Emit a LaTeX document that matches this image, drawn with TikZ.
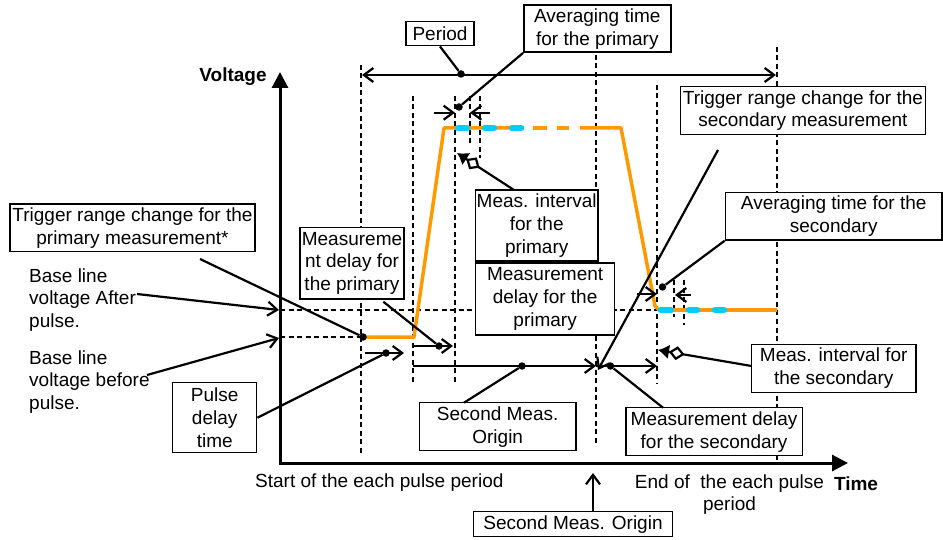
\documentclass[tikz,border=0pt]{standalone}
\usepackage{fontspec}
\setmainfont{Liberation Sans}
\usetikzlibrary{arrows.meta}
\definecolor{pulsecol}{RGB}{255,153,0}
\definecolor{meascol}{RGB}{0,204,255}
\newcommand\lblfont{\fontsize{19}{22.8}\selectfont}
\begin{document}
\begin{tikzpicture}[x=1pt,y=-1pt,
  box/.style={draw,line width=1.5pt,fill=white,align=center,inner sep=0pt,font=\lblfont},
  txt/.style={align=left,inner sep=0pt,font=\lblfont},
  guide/.style={line width=1.8pt,dash pattern=on 5pt off 3.5pt},
  lead/.style={line width=2.2pt},
  span/.style={line width=2.2pt,-{Straight Barb[length=9.5pt,width=14pt]}},
  twospan/.style={line width=2.2pt,{Straight Barb[length=9.5pt,width=14pt]}-{Straight Barb[length=9.5pt,width=14pt]}},
  dmd/.style={line width=2.2pt,-{Diamond[length=16pt,width=14pt,fill=white] Latex[length=11pt,width=15pt]}},
  dot/.style={circle,fill=black,inner sep=0pt,minimum size=7.5pt},
  volt/.style={draw=pulsecol,line width=3.5pt},
  avg/.style={draw=meascol,line width=6.5pt,line cap=round},
]
\useasboundingbox (0,0) rectangle (943,540);

% vertical timing guides
\foreach \n/\x/\a/\b in {A/361/65/455, B/413/96/383, C/455/96/383, D/470/96/144,
    E/480/96/158, F/596/55/446, G/657/85/383, H/674/280/317, I/684/280/325, J/777/47/461}
  {\coordinate (\n1) at (\x,\a); \coordinate (\n2) at (\x,\b); \draw[guide] (\n1) -- (\n2);}

% base line levels
\coordinate (ya) at (280,310); \coordinate (yae) at (657,310);
\coordinate (yb) at (280,337); \coordinate (ybe) at (361,337);
\draw[guide] (ya) -- (yae);
\draw[guide] (yb) -- (ybe);

% axes
\coordinate (O) at (280,463);
\coordinate (Vtop) at (280,72);
\coordinate (Tend) at (848,463);
\draw[line width=3pt,line join=miter,{Triangle[length=16pt,width=16pt]}-{Triangle[length=16pt,width=16pt]}] (Vtop) -- (O) -- (Tend);
\node[font=\lblfont\bfseries,inner sep=0pt] (vlab) at (233,77) {Voltage};
\node[font=\lblfont\bfseries,inner sep=0pt] (tlab) at (856,484) {Time};

% pulse waveform
\draw[volt,line join=round] (361,337) -- (414,337) -- (444,128) -- (524,128);
\draw[volt] (533,128) -- (547,128) (557,128) -- (569,128);
\draw[volt,line join=round] (580,128) -- (621,128) -- (655,306) -- (659,310) -- (777,310);

% averaging windows
\foreach \a/\b in {458/467, 485/494, 512/521} {\draw[avg] (\a,128) -- (\b,128);}
\foreach \a/\b in {661/671, 689/697, 715/724} {\draw[avg] (\a,310) -- (\b,310);}

% labels
\node[box,minimum width=68pt,minimum height=24pt] (period) at (440,33.7) {Period};
\node[box,minimum width=147pt,minimum height=47pt] (avgP) at (597.3,28.7) {Averaging time\\for the primary};
\node[box,minimum width=245pt,minimum height=47.6pt] (trigS) at (802.9,110.5) {Trigger range change for the\\secondary measurement};
\node[box,minimum width=122.5pt,minimum height=71pt] (mip) at (536.7,225.5) {Meas. interval\\for the\\primary};
\node[box,minimum width=139pt,minimum height=72pt] (mdp) at (545.1,298.8) {Measurement\\delay for the\\primary};
\node[box,minimum width=245pt,minimum height=47.7pt] (trigP) at (132.5,227.8) {Trigger range change for the\\primary measurement*};
\node[box,minimum width=104pt,minimum height=71.3pt] (mds) at (352,263.3) {Measureme\\nt delay for\\the primary};
\node[box,minimum width=216.5pt,minimum height=47.3pt] (avgS) at (833.7,216.3) {Averaging time for the\\secondary};
\node[box,minimum width=164.5pt,minimum height=48pt] (mis) at (833.7,368.3) {Meas. interval for\\the secondary};
\node[box,minimum width=84pt,minimum height=70pt] (pulse) at (214.7,417.7) {Pulse\\delay\\time};
\node[box,minimum width=156.7pt,minimum height=48pt] (so1) at (497.7,426.7) {Second Meas.\\Origin};
\node[box,minimum width=176.6pt,minimum height=48pt] (mdsec) at (714.1,431.7) {Measurement delay\\for the secondary};
\node[box,minimum width=199pt,minimum height=25pt] (so2) at (573,524.2) {Second Meas. Origin};

\node[txt,anchor=west] (startp) at (255,483) {Start of the each pulse period};
\node[txt,align=center] (endp) at (729.5,494.5) {End of\ \ the each pulse\\period};
\node[txt,anchor=west] (bafter) at (29,300) {Base line\\voltage After\\pulse.};
\node[txt,anchor=west] (bbefore) at (29,382) {Base line\\voltage before\\pulse.};

% marker dots
\node[dot] (dPer) at (461,74) {};
\node[dot] (dAvgP) at (459,107) {};
\node[dot] (dTrigP) at (363,337) {};
\node[dot] (dMd) at (439,346) {};
\node[dot] (dPulse) at (386,353) {};
\node[dot] (dSo) at (522,366) {};
\node[dot] (dMdSec) at (610.5,366) {};
\node[dot] (dAvgS) at (662.5,287) {};

% connector end points
\coordinate (perL) at (362,75);   \coordinate (perR) at (776,75);
\coordinate (aP1) at (434,112.7); \coordinate (aP1e) at (455,112.7);
\coordinate (aP2) at (490,112.7); \coordinate (aP2e) at (470,112.7);
\coordinate (mipFoot) at (514,190); \coordinate (mipTip) at (457,153);
\coordinate (trigPFoot) at (200,259);
\coordinate (mdsFoot) at (383.3,301.7);
\coordinate (mdA) at (413,346);  \coordinate (mdAe) at (453,346);
\coordinate (pdA) at (365,353);  \coordinate (pdAe) at (404,353);
\coordinate (so1Foot) at (464,402.7);
\coordinate (bot1) at (413,366); \coordinate (bot1e) at (596,366);
\coordinate (bot2) at (596,366); \coordinate (bot2e) at (657,366);
\coordinate (mdsecFoot) at (663,407.7);
\coordinate (trigSFoot) at (718,150); \coordinate (trigSTip) at (598,370);
\coordinate (aftFrom) at (137,294); \coordinate (aftTo) at (279,310);
\coordinate (befFrom) at (147,375); \coordinate (befTo) at (279,338);
\coordinate (so2Foot) at (593,511.7); \coordinate (so2Tip) at (593,473);
\coordinate (aS1) at (637,294); \coordinate (aS1e) at (657,294);
\coordinate (aS2) at (691,295); \coordinate (aS2e) at (675,295);
\coordinate (misFoot) at (751.5,366); \coordinate (misTip) at (658,350);

% connectors
\draw[lead] (period.south) -- (dPer);
\draw[twospan] (perL) -- (perR);
\draw[lead] (avgP.south west) -- (dAvgP);
\draw[span] (aP1) -- (aP1e);
\draw[span] (aP2) -- (aP2e);
\draw[dmd] (mipFoot) -- (mipTip);
\draw[lead] (trigPFoot) -- (dTrigP);
\draw[lead] (mdsFoot) -- (dMd);
\draw[span] (mdA) -- (mdAe);
\draw[span] (pdA) -- (pdAe);
\draw[lead] (pulse.east) -- (dPulse);
\draw[span] (bot1) -- (bot1e);
\draw[lead] (so1Foot) -- (dSo);
\draw[span] (bot2) -- (bot2e);
\draw[lead] (mdsecFoot) -- (dMdSec);
\draw[span] (trigSFoot) -- (trigSTip);
\draw[span] (aftFrom) -- (aftTo);
\draw[span] (befFrom) -- (befTo);
\draw[span] (so2Foot) -- (so2Tip);
\draw[span] (aS1) -- (aS1e);
\draw[span] (aS2) -- (aS2e);
\draw[lead] (avgS.south west) -- (dAvgS);
\draw[dmd] (misFoot) -- (misTip);
\end{tikzpicture}
\end{document}
